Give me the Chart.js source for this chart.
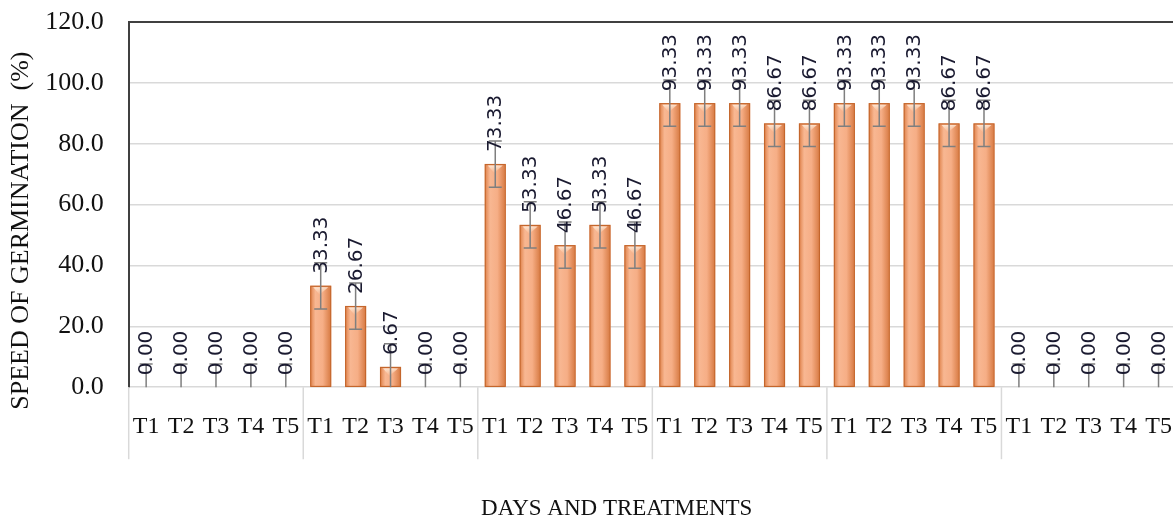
<!DOCTYPE html>
<html>
<head>
<meta charset="utf-8">
<script src="https://cdn.jsdelivr.net/npm/chart.js@4"></script>
<style>
  html, body { margin: 0; padding: 0; background: #fff; overflow: hidden; }
  #wrap { width: 1180px; height: 519px; }
</style>
</head>
<body>
<div id="wrap"><canvas id="chart"></canvas></div>
<script>
const treatments = ["T1", "T2", "T3", "T4", "T5"];
const groupCount = 6;
const labels = [];
for (let g = 0; g < groupCount; g++) labels.push(...treatments);

const speed = [
  0.00, 0.00, 0.00, 0.00, 0.00,
  33.33, 26.67, 6.67, 0.00, 0.00,
  73.33, 53.33, 46.67, 53.33, 46.67,
  93.33, 93.33, 93.33, 86.67, 86.67,
  93.33, 93.33, 93.33, 86.67, 86.67,
  0.00, 0.00, 0.00, 0.00, 0.00
];

const errs = [
  7.6, 7.6, 7.6, 7.6, 7.6,
  7.6, 7.6, 7.6, 7.6, 7.6,
  7.6, 7.6, 7.6, 7.6, 7.6,
  7.6, 7.6, 7.6, 7.6, 7.6,
  7.6, 7.6, 7.6, 7.6, 7.6,
  7.6, 7.6, 7.6, 7.6, 7.6
];

const yTicks = [0, 20, 40, 60, 80, 100, 120];

const serif = "'Liberation Serif', 'Times New Roman', serif";

// bar shading, separators, error bars, value labels, x title
const extras = {
  id: "extras",
  afterDatasetsDraw(chart) {
    const ctx = chart.ctx;
    const y = chart.scales.y;
    const x = chart.scales.x;
    const area = chart.chartArea;
    const bars = chart.getDatasetMeta(0).data;

    bars.forEach((bar, i) => {
      const w = bar.width;
      const l = bar.x - w / 2, r = bar.x + w / 2;
      const top = bar.y, base = bar.base;
      if (base - top < 1) return;
      const g = ctx.createLinearGradient(l, 0, r, 0);
      g.addColorStop(0, "#de8048");
      g.addColorStop(0.25, "#f8b792");
      g.addColorStop(0.6, "#f6ae86");
      g.addColorStop(1, "#d67840");
      ctx.save();
      ctx.fillStyle = g;
      ctx.fillRect(l + 1, top + 1, w - 2, base - top - 1);
      ctx.strokeStyle = "#c4662c";
      ctx.lineWidth = 1.2;
      ctx.strokeRect(l + 0.5, top + 0.5, w - 1, base - top - 0.5);
      // top bevel
      const sh = ctx.createLinearGradient(0, top, 0, top + 9);
      sh.addColorStop(0, "rgba(255,250,240,0.9)");
      sh.addColorStop(1, "rgba(255,220,190,0.1)");
      ctx.fillStyle = sh;
      ctx.beginPath();
      ctx.moveTo(l + 3, top + 1.5);
      ctx.lineTo(r - 3, top + 1.5);
      ctx.lineTo(bar.x - 1, top + 9);
      ctx.closePath();
      ctx.fill();
      ctx.restore();
    });

    // group separators below the axis
    ctx.save();
    ctx.strokeStyle = "#d9d9d9";
    ctx.lineWidth = 1.5;
    for (let g = 0; g <= groupCount; g++) {
      const px = x.left + g * x.width / groupCount;
      ctx.beginPath();
      ctx.moveTo(px, area.bottom);
      ctx.lineTo(px, area.bottom + 72);
      ctx.stroke();
    }
    ctx.restore();

    // error bars
    ctx.save();
    ctx.strokeStyle = "#7f7f7f";
    ctx.lineWidth = 1.5;
    bars.forEach((bar, i) => {
      const lo = Math.max(0, speed[i] - errs[i]);
      const hi = speed[i] + errs[i];
      const y1 = y.getPixelForValue(lo), y2 = y.getPixelForValue(hi);
      ctx.beginPath();
      ctx.moveTo(bar.x, y1);
      ctx.lineTo(bar.x, y2);
      ctx.moveTo(bar.x - 6.5, y2);
      ctx.lineTo(bar.x + 6.5, y2);
      if (lo > 0) {
        ctx.moveTo(bar.x - 6.5, y1);
        ctx.lineTo(bar.x + 6.5, y1);
      }
      ctx.stroke();
    });
    ctx.restore();

    // value labels, rotated
    ctx.save();
    ctx.fillStyle = "#1a1a30";
    ctx.font = "20px 'DejaVu Sans', Verdana, sans-serif";
    ctx.textAlign = "left";
    ctx.textBaseline = "middle";
    bars.forEach((bar, i) => {
      ctx.save();
      ctx.translate(bar.x, y.getPixelForValue(speed[i]) - 12);
      ctx.rotate(-Math.PI / 2);
      ctx.fillText(speed[i].toFixed(2), 0, 1);
      ctx.restore();
    });
    ctx.restore();

    // x axis title
    ctx.save();
    ctx.fillStyle = "#111";
    ctx.font = "23px " + serif;
    ctx.textAlign = "center";
    ctx.textBaseline = "middle";
    ctx.fillText("DAYS AND TREATMENTS", x.left + x.width * 0.466, chart.height - 10);
    ctx.restore();
  }
};

new Chart(document.getElementById("chart"), {
  type: "bar",
  data: {
    labels: labels,
    datasets: [{
      data: speed,
      backgroundColor: "#f4a77c",
      borderWidth: 0,
      categoryPercentage: 1.0,
      barPercentage: 0.6
    }]
  },
  options: {
    responsive: true,
    maintainAspectRatio: false,
    animation: false,
    layout: { padding: { top: 22, right: 4, bottom: 78, left: 0 } },
    plugins: {
      legend: { display: false },
      tooltip: { enabled: false }
    },
    scales: {
      x: {
        grid: {
          display: true,
          drawOnChartArea: false,
          drawTicks: true,
          tickLength: 25,
          color: "transparent",
          tickColor: "transparent"
        },
        border: { display: false },
        ticks: {
          autoSkip: false,
          maxRotation: 0,
          padding: 0,
          color: "#111",
          font: { family: serif, size: 24 }
        }
      },
      y: {
        min: 0,
        max: 120,
        afterBuildTicks: (axis) => { axis.ticks = yTicks.map(v => ({ value: v })); },
        grid: {
          drawTicks: true,
          tickLength: 25,
          tickColor: "transparent",
          color: (c) => c.tick && c.tick.value === 120 ? "#404040" : "#d9d9d9",
          lineWidth: (c) => c.tick && c.tick.value === 120 ? 2 : 1.5
        },
        border: { display: true, color: "#404040", width: 2 },
        ticks: {
          padding: 0,
          color: "#111",
          font: { family: serif, size: 26 },
          callback: (v) => Number(v).toFixed(1)
        },
        title: {
          display: true,
          text: "SPEED OF GERMINATION  (%)        ",
          color: "#111",
          font: { family: serif, size: 26 },
          padding: { top: 6, bottom: 8 }
        }
      }
    }
  },
  plugins: [extras]
});
</script>
</body>
</html>
